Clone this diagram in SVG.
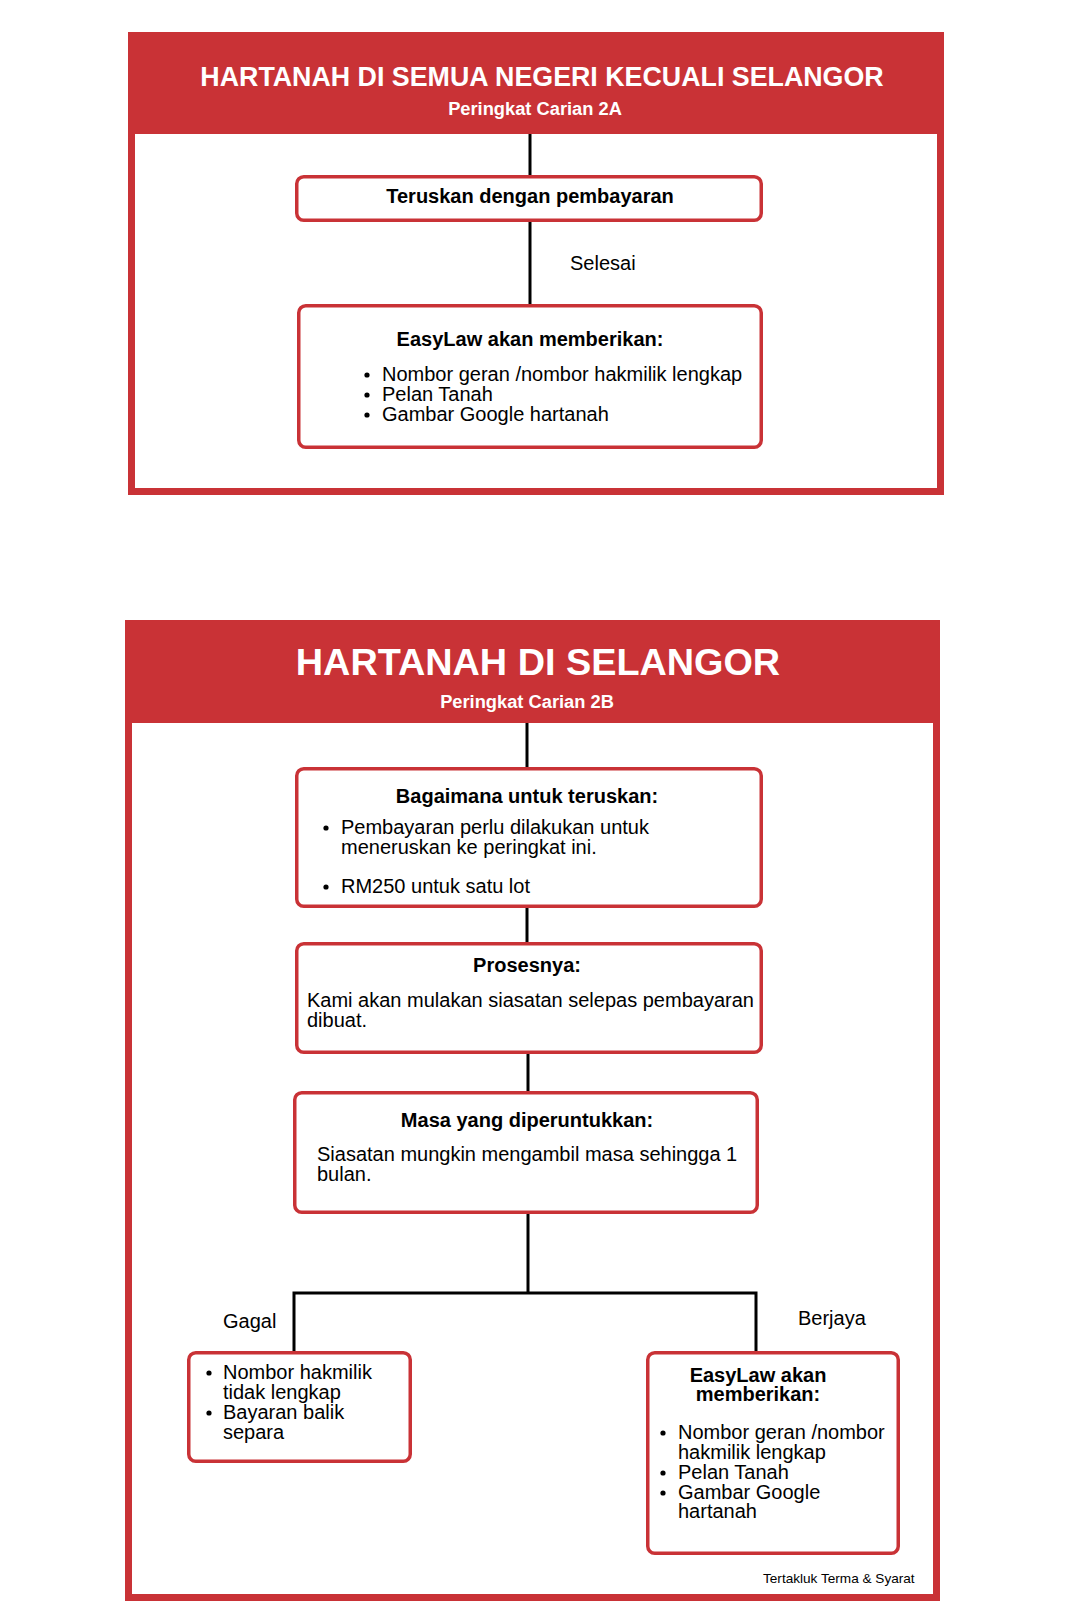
<svg xmlns="http://www.w3.org/2000/svg" width="1074" height="1624" viewBox="0 0 1074 1624">
  <defs>
    <style>
      .hdr { fill: #C93236; }
      .panel { fill: #FFFFFF; stroke: #C93236; stroke-width: 7; }
      .node { fill: #FFFFFF; stroke: #C93236; stroke-width: 3.5; }
      .wire { stroke: #000000; stroke-width: 3; fill: none; }
      .title { font-family: "Liberation Sans", Arial, sans-serif; font-weight: bold; fill: #FFFFFF; text-anchor: middle; }
      .sub { font-family: "Liberation Sans", Arial, sans-serif; font-weight: bold; font-size: 18.3px; fill: #FFFFFF; text-anchor: middle; }
      .b { font-family: "Liberation Sans", Arial, sans-serif; font-weight: bold; font-size: 20px; fill: #000000; text-anchor: middle; }
      .t { font-family: "Liberation Sans", Arial, sans-serif; font-size: 20px; fill: #000000; }
      .small { font-family: "Liberation Sans", Arial, sans-serif; font-size: 13.6px; fill: #000000; }
      .dot { fill: #000000; }
    </style>
  </defs>
  <rect width="1074" height="1624" fill="#FFFFFF"/>

  <!-- Panel 1 -->
  <g id="panel1">
    <rect class="panel" x="131.5" y="120" width="809" height="371.5"/>
    <rect class="hdr" x="128" y="32" width="816" height="102"/>
    <text class="title" x="542" y="86" font-size="26.8">HARTANAH DI SEMUA NEGERI KECUALI SELANGOR</text>
    <text class="sub" x="535" y="115">Peringkat Carian 2A</text>
  </g>

  <!-- Panel 2 -->
  <g id="panel2">
    <rect class="panel" x="128.5" y="710" width="808" height="887.5"/>
    <rect class="hdr" x="125" y="620" width="815" height="103"/>
    <text class="title" x="538" y="675" font-size="37.8">HARTANAH DI SELANGOR</text>
    <text class="sub" x="527" y="708">Peringkat Carian 2B</text>
  </g>

  <!-- Connectors -->
  <g id="connectors">
    <line class="wire" x1="530" y1="134" x2="530" y2="176"/>
    <line class="wire" x1="530" y1="221" x2="530" y2="305"/>
    <line class="wire" x1="527" y1="723" x2="527" y2="768"/>
    <line class="wire" x1="527" y1="907" x2="527" y2="943"/>
    <line class="wire" x1="528" y1="1053" x2="528" y2="1092"/>
    <line class="wire" x1="528" y1="1213" x2="528" y2="1293"/>
    <polyline class="wire" points="294,1352 294,1293 756,1293 756,1352"/>
    <text class="t" x="570" y="270">Selesai</text>
    <text class="t" x="223" y="1328">Gagal</text>
    <text class="t" x="798" y="1325">Berjaya</text>
  </g>

  <!-- Panel 1 nodes -->
  <g id="node-teruskan">
    <rect class="node" x="296.75" y="176.75" width="464.5" height="43.5" rx="7"/>
    <text class="b" x="530" y="203">Teruskan dengan pembayaran</text>
  </g>

  <g id="node-easylaw1">
    <rect class="node" x="298.75" y="305.75" width="462.5" height="141.5" rx="7"/>
    <text class="b" x="530" y="346">EasyLaw akan memberikan:</text>
    <circle class="dot" cx="367" cy="375" r="2.6"/>
    <circle class="dot" cx="367" cy="395" r="2.6"/>
    <circle class="dot" cx="367" cy="415" r="2.6"/>
    <text class="t" x="382" y="381">Nombor geran /nombor hakmilik lengkap</text>
    <text class="t" x="382" y="401">Pelan Tanah</text>
    <text class="t" x="382" y="421">Gambar Google hartanah</text>
  </g>

  <!-- Panel 2 nodes -->
  <g id="node-bagaimana">
    <rect class="node" x="296.75" y="768.75" width="464.5" height="137.5" rx="7"/>
    <text class="b" x="527" y="803">Bagaimana untuk teruskan:</text>
    <circle class="dot" cx="326" cy="828" r="2.6"/>
    <circle class="dot" cx="326" cy="887" r="2.6"/>
    <text class="t" x="341" y="834">Pembayaran perlu dilakukan untuk</text>
    <text class="t" x="341" y="854">meneruskan ke peringkat ini.</text>
    <text class="t" x="341" y="893">RM250 untuk satu lot</text>
  </g>

  <g id="node-prosesnya">
    <rect class="node" x="296.75" y="943.75" width="464.5" height="108.5" rx="7"/>
    <text class="b" x="527" y="972">Prosesnya:</text>
    <text class="t" x="307" y="1007">Kami akan mulakan siasatan selepas pembayaran</text>
    <text class="t" x="307" y="1027">dibuat.</text>
  </g>

  <g id="node-masa">
    <rect class="node" x="294.75" y="1092.75" width="462.5" height="119.5" rx="7"/>
    <text class="b" x="527" y="1127">Masa yang diperuntukkan:</text>
    <text class="t" x="317" y="1161">Siasatan mungkin mengambil masa sehingga 1</text>
    <text class="t" x="317" y="1181">bulan.</text>
  </g>

  <g id="node-gagal">
    <rect class="node" x="188.75" y="1352.75" width="221.5" height="108.5" rx="7"/>
    <circle class="dot" cx="209" cy="1373" r="2.6"/>
    <circle class="dot" cx="209" cy="1413" r="2.6"/>
    <text class="t" x="223" y="1379">Nombor hakmilik</text>
    <text class="t" x="223" y="1399">tidak lengkap</text>
    <text class="t" x="223" y="1419">Bayaran balik</text>
    <text class="t" x="223" y="1439">separa</text>
  </g>

  <g id="node-berjaya">
    <rect class="node" x="647.75" y="1352.75" width="250.5" height="200.5" rx="7"/>
    <text class="b" x="758" y="1382">EasyLaw akan</text>
    <text class="b" x="758" y="1401">memberikan:</text>
    <circle class="dot" cx="663" cy="1433" r="2.6"/>
    <circle class="dot" cx="663" cy="1473" r="2.6"/>
    <circle class="dot" cx="663" cy="1493" r="2.6"/>
    <text class="t" x="678" y="1439">Nombor geran /nombor</text>
    <text class="t" x="678" y="1459">hakmilik lengkap</text>
    <text class="t" x="678" y="1479">Pelan Tanah</text>
    <text class="t" x="678" y="1499">Gambar Google</text>
    <text class="t" x="678" y="1518">hartanah</text>
  </g>

  <g id="footnote">
    <text class="small" x="763" y="1583">Tertakluk Terma &amp; Syarat</text>
  </g>
</svg>
